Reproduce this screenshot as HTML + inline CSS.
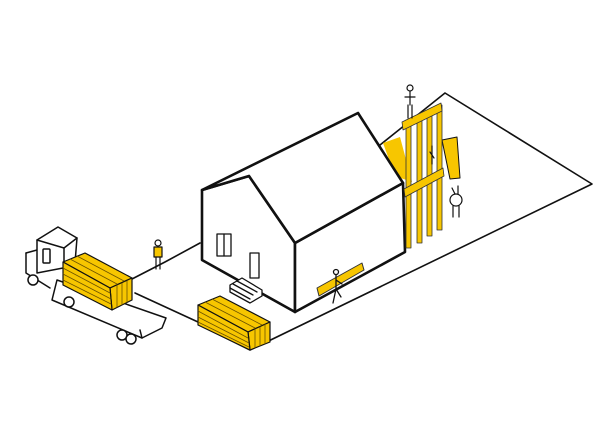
<!DOCTYPE html>
<html><head><style>html,body{margin:0;padding:0;background:#fff}svg{display:block}</style></head>
<body>
<svg width="605" height="440" viewBox="0 0 605 440" xmlns="http://www.w3.org/2000/svg" fill="none" stroke="#111" stroke-linejoin="round" stroke-linecap="round">
<!-- ground -->
<g stroke-width="1.6">
<polyline points="380,145 445,93 592,184 250,350 200,325"/>
<polyline points="132,279 165,262 200,243"/>
<polyline points="135,293 198,322"/>
</g>
<!-- truck -->
<g stroke-width="1.5">
<polygon points="57,280 166,318 162,328 142,338 52,300" fill="#fff"/>
<line x1="142" y1="338" x2="140" y2="330"/>
<polyline points="26,253 26,273 50,288"/>
<polyline points="26,253 37,250"/>
<polygon points="37,240 58,227 77,238 75,263 63,268 37,273" fill="#fff"/>
<polyline points="37,240 64,248 77,238"/>
<line x1="64" y1="248" x2="64" y2="282"/>
<rect x="43" y="249" width="7" height="14" rx="1"/>
<circle cx="33" cy="280" r="5" fill="#fff"/>
<circle cx="69" cy="302" r="5" fill="#fff"/>
<circle cx="122" cy="335" r="5" fill="#fff"/>
<circle cx="131" cy="339" r="5" fill="#fff"/>
</g>
<!-- lumber on truck -->
<g stroke-width="1.2" fill="#f7c600">
<polygon points="63,262 85,253 132,278 110,288"/>
<polygon points="110,288 132,278 132,300 112,310"/>
<polygon points="63,262 110,288 112,310 63,285"/>
</g>
<g stroke-width="0.8" stroke="#6b5200">
<line x1="63" y1="268" x2="110" y2="293"/><line x1="63" y1="274" x2="111" y2="299"/><line x1="63" y1="280" x2="111" y2="304"/>
<line x1="70" y1="259" x2="117" y2="284"/><line x1="77" y1="256" x2="124" y2="281"/>
<line x1="117" y1="285" x2="117" y2="307"/><line x1="122" y1="283" x2="122" y2="305"/><line x1="127" y1="281" x2="127" y2="302"/>
</g>
<!-- lumber 2 -->
<g stroke-width="1.2" fill="#f7c600">
<polygon points="198,305 220,296 270,322 248,332"/>
<polygon points="248,332 270,322 270,342 250,350"/>
<polygon points="198,305 248,332 250,350 198,325"/>
</g>
<g stroke-width="0.8" stroke="#6b5200">
<line x1="198" y1="311" x2="248" y2="338"/><line x1="198" y1="317" x2="249" y2="343"/><line x1="198" y1="322" x2="249" y2="347"/>
<line x1="205" y1="302" x2="255" y2="328"/><line x1="212" y1="299" x2="262" y2="325"/>
<line x1="255" y1="329" x2="255" y2="348"/><line x1="260" y1="327" x2="260" y2="346"/><line x1="265" y1="324" x2="265" y2="344"/>
</g>
<!-- yellow person -->
<circle cx="158" cy="243" r="3" stroke-width="1.2"/>
<path d="M154,247 h8 v10 h-8 z" fill="#f7c600" stroke-width="1.2"/>
<path d="M156,257 v12 M160,257 v12" stroke-width="1.2"/>
<!-- yellow background pieces -->
<polygon points="383,143 400,137 412,182 395,176" fill="#f7c600" stroke="none"/>
<polygon points="442,140 457,137 460,178 450,179" fill="#f7c600" stroke="#111" stroke-width="1"/>
<!-- house -->
<g stroke-width="2.6" fill="#fff">
<polygon points="202,190 249,176 295,243 295,312 202,260"/>
<polygon points="295,243 403,183 405,252 295,312"/>
<polygon points="202,190 358,113 403,183 295,243 249,176"/>
</g>
<g stroke-width="1.3">
<rect x="217" y="234" width="14" height="22"/><line x1="224" y1="234" x2="224" y2="256"/>
<rect x="250" y="253" width="9" height="25" fill="#fff"/>
<polygon points="230,285 242,278 262,290 262,296 250,303 230,292" fill="#fff"/>
<line x1="230" y1="288" x2="250" y2="299"/><line x1="233" y1="284" x2="253" y2="295"/><line x1="237" y1="281" x2="257" y2="292"/>
</g>
<!-- frame -->
<g fill="#f7c600" stroke="#333" stroke-width="0.8">
<rect x="406" y="120" width="5" height="128"/>
<rect x="417" y="115" width="5" height="128"/>
<rect x="427" y="110" width="5" height="126"/>
<rect x="437" y="105" width="5" height="125"/>
<polygon points="402,122 441,103 442,111 403,130"/>
<polygon points="404,189 443,168 444,176 405,197"/>
</g>
<!-- people near frame -->
<g stroke-width="1.2">
<circle cx="410" cy="88" r="3"/><path d="M410,91 v14 M405,97 h10 M408,105 v13 M412,105 v13"/>
<path d="M432,146 v18 M430,152 l4,6"/>
<circle cx="456" cy="200" r="6" fill="#fff"/><path d="M453,206 v11 M459,206 v11 M452,188 l3,6 M458,186 l0,8"/>
</g>
<!-- beam and walking person -->
<polygon points="317,288 362,263 364,270 319,296" fill="#f7c600" stroke="#333" stroke-width="1"/>
<g stroke-width="1.3">
<circle cx="336" cy="272" r="2.5"/><path d="M336,275 v14 l-3,14 M336,289 l5,8 M336,280 l6,4"/>
</g>
</svg>
</body></html>
